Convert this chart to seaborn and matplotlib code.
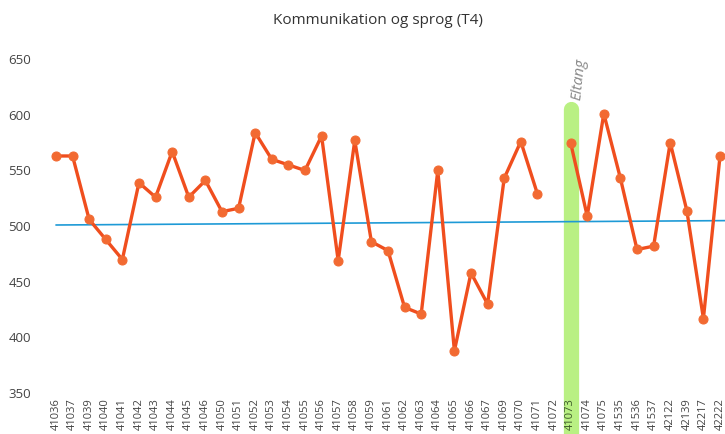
import numpy as np
import pandas as pd
import matplotlib
matplotlib.use("Agg")
import matplotlib.pyplot as plt
import seaborn as sns

# --- data ---
schools = ["41036", "41037", "41039", "41040", "41041", "41042", "41043", "41044",
           "41045", "41046", "41050", "41051", "41052", "41053", "41054", "41055",
           "41056", "41057", "41058", "41059", "41061", "41062", "41063", "41064",
           "41065", "41066", "41067", "41069", "41070", "41071", "41072", "41073",
           "41074", "41075", "41535", "41536", "41537", "42122", "42139", "42217",
           "42222"]
scores = [562, 562, 505, 487, 469, 538, 525, 566,
          525, 540, 512, 515, 583, 559, 554, 549,
          580, 468, 576, 485, 477, 426, 420, 549,
          387, 457, 429, 542, 575, 528, np.nan, 574,
          508, 600, 542, 478, 481, 574, 513, 416,
          562]
trend_x = [0, 41]
trend_y = [500, 504]
highlight = "41073"
note = "Eltang"

df = pd.DataFrame({"pos": np.arange(len(schools)), "school": schools, "score": scores})
df["segment"] = df["score"].isna().cumsum()
df = df.dropna()

sns.set_style("white")
plt.rcParams["font.family"] = ["Open Sans", "DejaVu Sans"]

fig = plt.figure(figsize=(7.25, 4.35), dpi=100)
ax = fig.add_axes([45 / 725, 42 / 435, 680 / 725, 334 / 435])
ax.set_axisbelow(False)

# green marker-pen highlight (below the tick labels)
hi = schools.index(highlight)
ax.plot([hi, hi], [312, 604], color="#b6f07c", lw=11, solid_capstyle="round",
        clip_on=False, zorder=0.2, alpha=0.95)

# trend line
sns.lineplot(x=trend_x, y=trend_y, color="#1e9ad6", lw=1.2, ax=ax, zorder=2)

# scores
sns.lineplot(data=df, x="pos", y="score", units="segment", estimator=None,
             color="#f04e1e", lw=2.4, marker="o", markersize=6.5,
             markerfacecolor="#f26a32", markeredgecolor="#f26a32", ax=ax, zorder=3)

ax.set_xlim(-0.66, 40.3)
ax.set_ylim(350, 650)
ax.set_yticks(range(350, 651, 50))
ax.set_xticks(range(len(schools)))
ax.set_xticklabels(schools, rotation=90, fontsize=8, color="#444444")
ax.tick_params(axis="y", labelsize=9.5, labelcolor="#444444", pad=10, length=0)
ax.tick_params(axis="x", pad=4, length=0)
for lab in ax.get_xticklabels():
    if lab.get_text() == highlight:
        lab.set_color("#3d5a2a")
ax.set_xlabel("")
ax.set_ylabel("")
sns.despine(ax=ax, left=True, bottom=True)

ax.text(hi - 0.1, 612, note, rotation=84, fontsize=11, color="#888888",
        style="italic", ha="left", va="bottom", clip_on=False)

fig.text(378 / 725, 1 - 20 / 435, "Kommunikation og sprog (T4)", ha="center",
         va="center", fontsize=11, color="#333333")

fig.savefig("out.png", dpi=100)
